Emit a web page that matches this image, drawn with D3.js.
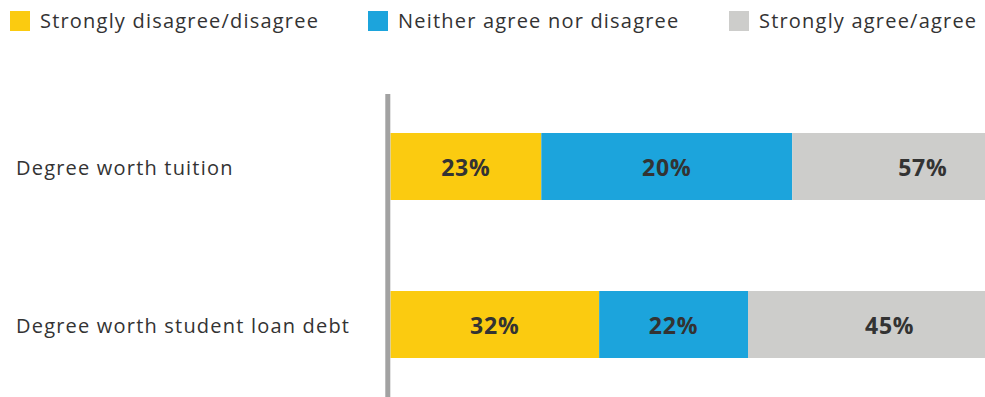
<!DOCTYPE html>
<html>
<head>
<meta charset="utf-8">
<script src="https://cdn.jsdelivr.net/npm/d3@7"></script>
<style>
  html, body { margin: 0; padding: 0; background: #fff; }
  svg { display: block; font-family: "Open Sans", Lato, sans-serif; }
</style>
</head>
<body>
<svg id="chart" width="985" height="397"></svg>
<script>
// categories and series, bar lengths read from the drawn segments
var categories = ['Degree worth tuition', 'Degree worth student loan debt'];
var seriesNames = ['Strongly disagree/disagree', 'Neither agree nor disagree', 'Strongly agree/agree'];
var disagree = [23.2, 32.1];
var neither = [38.6, 22.9];
var agree = [40.2, 43.6];
// percent labels as printed on the bars
var disagreeLabels = ['23%', '32%'];
var neitherLabels = ['20%', '22%'];
var agreeLabels = ['57%', '45%'];

var colors = ['#fbcb10', '#1ca4dc', '#cdcdcb'];

var svg = d3.select('#chart');

var x = d3.scaleLinear().domain([0, 100]).range([390.5, 1040.5]);
var y = d3.scaleBand().domain(categories).range([87.5, 403.5])
  .paddingInner(0.576).paddingOuter(0.288);

var rows = categories.map(function(c, i) {
  return { cat: c, values: [disagree[i], neither[i], agree[i]],
           labels: [disagreeLabels[i], neitherLabels[i], agreeLabels[i]] };
});

var segs = [];
rows.forEach(function(r) {
  var acc = 0;
  r.values.forEach(function(v, k) {
    segs.push({ cat: r.cat, k: k, x0: acc, x1: acc + v, label: r.labels[k] });
    acc += v;
  });
});

svg.append('g').selectAll('rect').data(segs).enter().append('rect')
  .attr('x', function(d) { return x(d.x0); })
  .attr('y', function(d) { return y(d.cat); })
  .attr('width', function(d) { return x(d.x1) - x(d.x0); })
  .attr('height', y.bandwidth())
  .attr('fill', function(d) { return colors[d.k]; });

svg.append('g').selectAll('text').data(segs).enter().append('text')
  .attr('x', function(d) { return (x(d.x0) + x(d.x1)) / 2; })
  .attr('y', function(d) { return y(d.cat) + y.bandwidth() / 2 + 9.5; })
  .attr('text-anchor', 'middle')
  .attr('font-size', 23)
  .attr('font-weight', 'bold')
  .attr('letter-spacing', 0.8)
  .attr('fill', '#333')
  .text(function(d) { return d.label; });

// vertical axis line
svg.append('line')
  .attr('x1', 387.8).attr('x2', 387.8)
  .attr('y1', 94).attr('y2', 397)
  .attr('stroke', '#a2a2a2')
  .attr('stroke-width', 5);

// category labels
svg.append('g').selectAll('text').data(categories).enter().append('text')
  .attr('x', 16)
  .attr('y', function(d) { return y(d) + y.bandwidth() / 2 + 8; })
  .attr('font-size', 20)
  .attr('letter-spacing', 1.2)
  .attr('fill', '#333')
  .text(function(d) { return d; });

// legend
var legendX = [10, 368, 729];
var lg = svg.append('g').selectAll('g').data(seriesNames).enter().append('g')
  .attr('transform', function(d, i) { return 'translate(' + legendX[i] + ',11)'; });
lg.append('rect')
  .attr('width', 20).attr('height', 20)
  .attr('fill', function(d, i) { return colors[i]; });
lg.append('text')
  .attr('x', 30).attr('y', 17)
  .attr('font-size', 20)
  .attr('letter-spacing', 1.2)
  .attr('fill', '#333')
  .text(function(d) { return d; });
</script>
</body>
</html>
